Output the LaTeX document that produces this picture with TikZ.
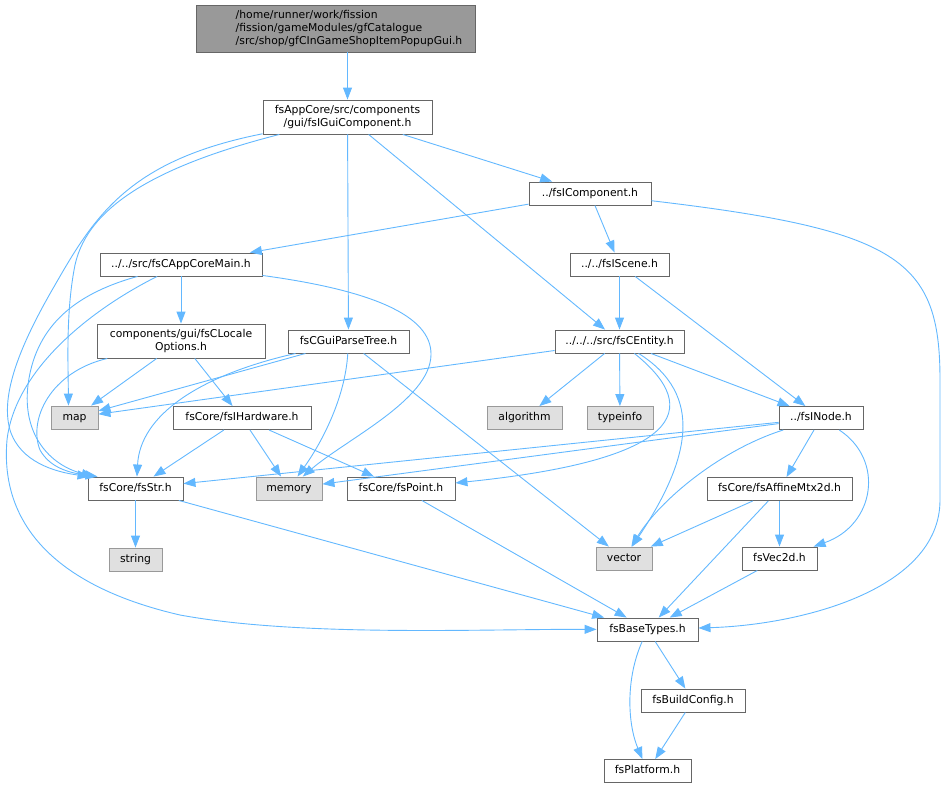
\documentclass[tikz,border=0pt]{standalone}
\usepackage{fontspec}
\setmainfont{DejaVu Sans}
\usetikzlibrary{arrows.meta}
\definecolor{edgec}{HTML}{63B8FF}
\definecolor{boxc}{HTML}{666666}
\definecolor{extb}{HTML}{999999}
\definecolor{extf}{HTML}{E0E0E0}
\definecolor{topf}{HTML}{999999}
\tikzset{
  nb/.style={draw=boxc, line width=0.9pt, fill=white, inner sep=0pt, minimum height=23pt,
    font=\fontsize{10.8}{13}\selectfont},
  one/.style={nb, text height=8pt, text depth=2.5pt},
  two/.style={nb, align=center, minimum height=34pt},
  ext/.style={one, draw=extb, fill=extf},
  e/.style={draw=edgec, line width=0.9pt, -{Triangle[length=12pt,width=9pt]}},
}
\begin{document}
\begin{tikzpicture}[x=1pt,y=-1pt]
\useasboundingbox (0,0) rectangle (947,788);
% nodes
\node[nb, fill=topf, minimum width=279pt, minimum height=47pt, align=left] (top) at (335.5,28.5)
  {\hspace*{27pt}/home/runner/work/fission\\\hspace*{27pt}/fission/gameModules/gfCatalogue\\\hspace*{27pt}/src/shop/gfCInGameShopItemPopupGui.h};
\node[two, minimum width=169pt] (gui) at (347.5,117) {fsAppCore/src/components\\/gui/fsIGuiComponent.h};
\node[one, minimum width=122pt] (comp) at (590,193.5) {../fsIComponent.h};
\node[one, minimum width=162pt] (app) at (181,264.5) {../../src/fsCAppCoreMain.h};
\node[one, minimum width=99pt] (scene) at (619.5,264.5) {../../fsIScene.h};
\node[two, minimum width=168pt] (locale) at (181,341) {components/gui/fsCLocale\\Options.h};
\node[one, minimum width=121pt] (parse) at (348.5,341.5) {fsCGuiParseTree.h};
\node[one, minimum width=129pt] (entity) at (619.5,341.5) {../../../src/fsCEntity.h};
\node[ext, minimum width=47pt] (map) at (74.5,417.5) {map};
\node[one, minimum width=138pt] (hw) at (242,418) {fsCore/fsIHardware.h};
\node[ext, minimum width=75pt] (algo) at (524.5,418) {algorithm};
\node[ext, minimum width=66pt] (typeinfo) at (620,418) {typeinfo};
\node[one, minimum width=84pt] (inode) at (821,418) {../fsINode.h};
\node[one, minimum width=95pt] (str) at (135.5,488.5) {fsCore/fsStr.h};
\node[ext, minimum width=66pt] (memory) at (289,488.5) {memory};
\node[one, minimum width=108pt] (point) at (401,488.5) {fsCore/fsPoint.h};
\node[one, minimum width=145pt] (affine) at (779.5,489) {fsCore/fsAffineMtx2d.h};
\node[ext, minimum width=53pt] (string) at (135.5,559.5) {string};
\node[ext, minimum width=56pt] (vector) at (624,558.5) {vector};
\node[one, minimum width=75pt] (vec2d) at (779.5,558.5) {fsVec2d.h};
\node[one, minimum width=101pt] (base) at (647.5,629.5) {fsBaseTypes.h};
\node[one, minimum width=104pt] (build) at (693,700.5) {fsBuildConfig.h};
\node[one, minimum width=87pt] (platform) at (647.5,771) {fsPlatform.h};
% edges
\draw[e] (top.south -| gui.north) -- (gui.north);
\draw[e] (gui) -- (comp);
\draw[e] (gui) -- (parse);
\draw[e] (gui) -- (entity);
\draw[e] (gui) .. controls (160,165) and (88,205) .. (75,265) .. controls (66,310) and (68,360) .. ([xshift=-6pt]map.north);
\draw[e] (gui) .. controls (130,160) and (95,215) .. (55,285) .. controls (20,345) and (0,395) .. (10,430) .. controls (20,462) and (55,472) .. ([xshift=2pt]str.north west);
\draw[e] (comp) -- (app);
\draw[e] (comp) -- (scene);
\draw[e] (comp) .. controls (900,230) and (940,260) .. (940,380) -- (940,500) .. controls (940,590) and (800,625) .. (base);
\draw[e] (app) -- (locale);
\draw[e] (app) .. controls (70,295) and (35,330) .. (28,385) .. controls (22,435) and (50,465) .. ([xshift=6pt]str.north west);
\draw[e] (app) .. controls (90,310) and (15,370) .. (7,440) .. controls (0,520) and (50,585) .. (180,615) .. controls (300,637) and (480,629) .. (base);
\draw[e] (app) .. controls (370,290) and (432,315) .. (431,355) .. controls (430,400) and (345,440) .. (memory);
\draw[e] (scene) -- (entity);
\draw[e] (scene) -- (inode);
\draw[e] (locale) -- (map);
\draw[e] (locale) -- (hw);
\draw[e] (locale) .. controls (50,372) and (28,420) .. (40,450) .. controls (50,468) and (70,473) .. ([xshift=10pt]str.north west);
\draw[e] (parse) -- (map);
\draw[e] (parse) .. controls (200,375) and (140,415) .. ([xshift=1.5pt]str.north);
\draw[e] (parse) .. controls (345,400) and (320,445) .. (memory);
\draw[e] (parse) -- (vector);
\draw[e] (entity) -- (map);
\draw[e] (entity) -- (algo);
\draw[e] (entity) -- (typeinfo);
\draw[e] (entity) -- (inode);
\draw[e] (entity) .. controls (705,410) and (680,460) .. (point);
\draw[e] (entity) .. controls (705,395) and (690,460) .. (vector);
\draw[e] (hw) -- (str);
\draw[e] (hw) -- (memory);
\draw[e] (hw) -- (point);
\draw[e] (inode) -- (str);
\draw[e] (inode) -- (memory);
\draw[e] (inode) -- (affine);
\draw[e] (inode) .. controls (720,450) and (660,500) .. (vector);
\draw[e] (inode) .. controls (885,460) and (875,525) .. (vec2d);
\draw[e] (str) -- (string);
\draw[e] (str) -- (base);
\draw[e] (point) -- (base);
\draw[e] (affine) -- (vector);
\draw[e] (affine) -- (base);
\draw[e] (affine) -- (vec2d);
\draw[e] (vec2d) -- (base);
\draw[e] (base) -- (build);
\draw[e] (base) .. controls (625,680) and (628,725) .. (platform);
\draw[e] (build) -- (platform);
\end{tikzpicture}
\end{document}
